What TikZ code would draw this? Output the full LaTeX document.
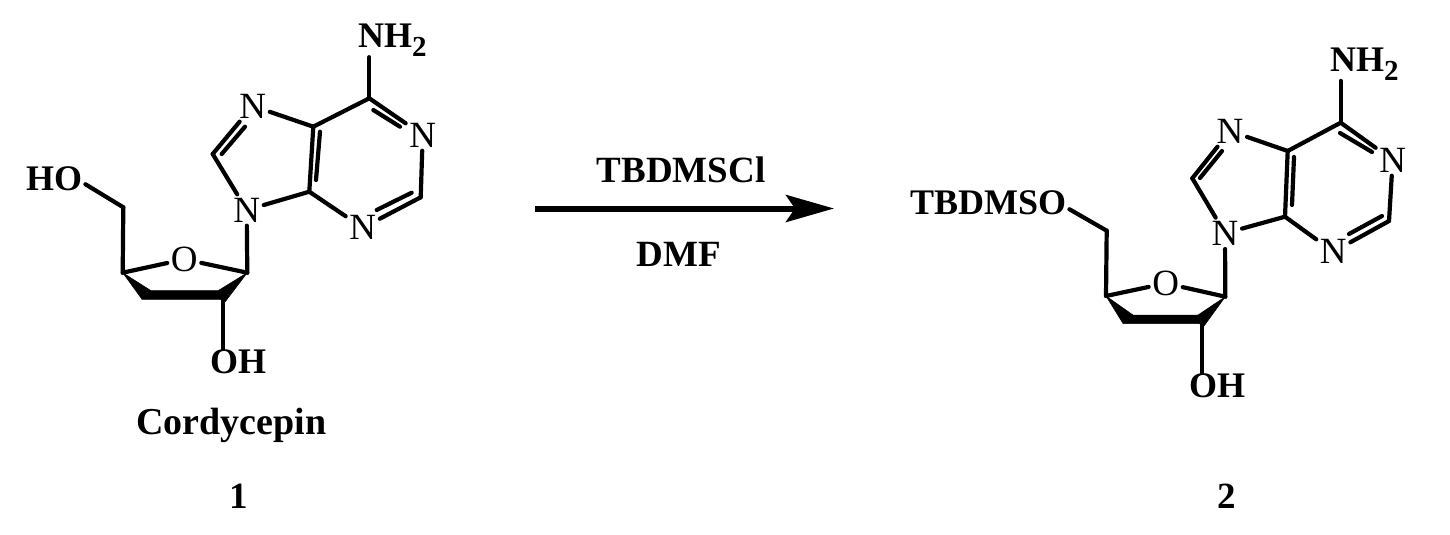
\documentclass[tikz,border=0pt]{standalone}
\usepackage{fontspec}
\setmainfont{Liberation Serif}
\usetikzlibrary{arrows.meta}
\newcommand{\subtwo}{\raisebox{-9pt}{\fontsize{29}{29}\selectfont 2}}
\tikzset{
  bond/.style={line width=4.2pt,line cap=round,line join=miter,draw=black},
  wedgebond/.style={fill=black,draw=black,line width=0.5pt,line join=miter},
  ring/.style={font=\fontsize{37}{37}\selectfont,inner sep=3.5pt,text height=24pt,text depth=0pt},
  boldlabel/.style={font=\fontsize{36}{36}\selectfont\bfseries,inner sep=0pt,anchor=base west},
  caption/.style={font=\fontsize{37}{37}\selectfont\bfseries,inner sep=0pt,anchor=base},
  rxnarrow/.style={line width=6pt,-{Stealth[length=48pt,width=27pt,inset=9pt]}}
}
\begin{document}
\begin{tikzpicture}[x=1pt,y=-1pt]
\useasboundingbox (0,0) rectangle (1450,535);
% ---------- molecule 1
\coordinate (a6) at (369.3,98.3);
\coordinate (a2) at (420.7,197.3);
\coordinate (a4) at (309.3,191.7);
\coordinate (a5) at (313.3,126.7);
\coordinate (a8) at (212.7,154);
\coordinate (a1p) at (247.3,272.7);
\coordinate (a4p) at (122.7,272.7);
\coordinate (a5p) at (123.3,207.3);
\coordinate (a3p) at (223,300);
\node[ring] (an1) at (422.7,135) {N};
\node[ring] (an3) at (362.7,227.7) {N};
\node[ring] (an7) at (252.7,106) {N};
\node[ring] (an9) at (246.7,210) {N};
\node[ring] (ao) at (184.3,259.3) {O};
\node[boldlabel] (anh2) at (358,48) {NH\subtwo};
\node[boldlabel] (aho) at (26,190) {HO};
\node[boldlabel] (aoh) at (210,373) {OH};
\draw[bond] (a6) -- (a6 |- anh2.south);
\draw[bond] (a6) -- (an1);
\draw[bond] (an1) -- (a2);
\draw[bond] (a2) -- (an3);
\draw[bond] (an3) -- (a4);
\draw[bond] (a4) -- (a5);
\draw[bond] (a5) -- (a6);
\draw[bond] (a5) -- (an7);
\draw[bond] (an7) -- (a8);
\draw[bond] (a8) -- (an9);
\draw[bond] (an9) -- (a4);
\draw[bond] (an9) -- (a1p);
\draw[bond] (a1p) -- (ao);
\draw[bond] (ao) -- (a4p);
\draw[bond] (a4p) -- (a5p);
\draw[bond] (a5p) -- ([shift={(3,6)}]aho.east);
\draw[bond] (a3p) -- (a3p |- aoh.north);
\draw[bond] (373.3,110) -- (400,126.7);
\draw[bond] (221.7,154) -- (245,126.7);
\draw[bond] (316,180) -- (320,131.7);
\draw[bond] (411.7,192.7) -- (376.7,210);
\fill[wedgebond] (a4p) -- (151,290.7) -- (218,290.7) -- (a1p) -- (225,302) -- (220,299.3) -- (142,299.3) -- cycle;
% ---------- arrow
\coordinate (arrstart) at (535,208.5);
\coordinate (arrend) at (834,208.5);
\draw[rxnarrow] (arrstart) -- (arrend);
\node[caption] (tb) at (681,182) {TBDMSCl};
\node[caption] (dmf) at (678.5,266) {DMF};
\node[caption,font=\fontsize{38}{38}\selectfont\bfseries] (cord) at (231.5,434) {Cordycepin};
\node[caption] (one) at (239,508) {1};
\node[caption] (two) at (1227,508) {2};
% ---------- molecule 2
\coordinate (b6) at (1340.7,122.7);
\coordinate (b2) at (1389,221);
\coordinate (b4) at (1285,216.7);
\coordinate (b5) at (1287.7,151);
\coordinate (b8) at (1192.3,178.3);
\coordinate (b1p) at (1225.3,296.7);
\coordinate (b4p) at (1106,296);
\coordinate (b5p) at (1106.7,230.7);
\coordinate (b3p) at (1202.3,324);
\node[ring] (bn1) at (1392.7,160) {N};
\node[ring] (bn3) at (1333.3,251.7) {N};
\node[ring] (bn7) at (1230,131) {N};
\node[ring] (bn9) at (1225,233.3) {N};
\node[ring] (bo) at (1165.7,283.3) {O};
\node[boldlabel] (bnh2) at (1330,71.7) {NH\subtwo};
\node[boldlabel] (bso) at (910,214) {TBDMSO};
\node[boldlabel] (boh) at (1189,397) {OH};
\draw[bond] (b6) -- (b6 |- bnh2.south);
\draw[bond] (b6) -- (bn1);
\draw[bond] (bn1) -- (b2);
\draw[bond] (b2) -- (bn3);
\draw[bond] (bn3) -- (b4);
\draw[bond] (b4) -- (b5);
\draw[bond] (b5) -- (b6);
\draw[bond] (b5) -- (bn7);
\draw[bond] (bn7) -- (b8);
\draw[bond] (b8) -- (bn9);
\draw[bond] (bn9) -- (b4);
\draw[bond] (bn9) -- (b1p);
\draw[bond] (b1p) -- (bo);
\draw[bond] (bo) -- (b4p);
\draw[bond] (b4p) -- (b5p);
\draw[bond] (b5p) -- ([shift={(3,7)}]bso.east);
\draw[bond] (b3p) -- (b3p |- boh.north);
\draw[bond] (1340,133) -- (1372,152);
\draw[bond] (1200,178) -- (1222,151);
\draw[bond] (1292,205) -- (1294,157);
\draw[bond] (1382,216) -- (1349,234);
\fill[wedgebond] (b4p) -- (1133,315) -- (1198,315) -- (b1p) -- (1204,326) -- (1199,323.5) -- (1123,323.5) -- cycle;
\end{tikzpicture}
\end{document}
